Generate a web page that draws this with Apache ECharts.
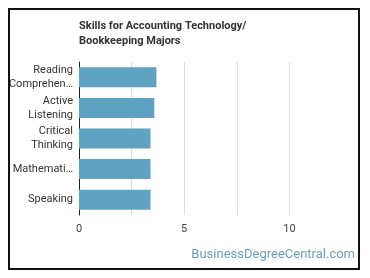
<!DOCTYPE html>
<html><head><meta charset="utf-8">
<script src="https://cdn.jsdelivr.net/npm/echarts@6/dist/echarts.min.js"></script>
<style>html,body{margin:0;padding:0;background:#fff}#c{width:370px;height:278px}</style>
</head><body><div id="c"></div>
<script>
var titleText = 'Skills for Accounting Technology/\nBookkeeping Majors';
var categories = ['Reading\nComprehen\u2026', 'Active\nListening', 'Critical\nThinking', 'Mathemati\u2026', 'Speaking'];
var values = [3.68, 3.58, 3.4, 3.4, 3.4];
var xTicks = [0, 2.5, 5, 7.5, 10, 12.5];
var watermark = 'BusinessDegreeCentral.com';

var chart = echarts.init(document.getElementById('c'), null, {renderer: 'canvas'});
chart.setOption({
  animation: false,
  title: {
    text: titleText, left: 74, top: 14,
    textStyle: {fontFamily: 'Roboto', fontSize: 11, fontWeight: 'bold', color: '#333', lineHeight: 15}
  },
  grid: {left: 79, right: 28, top: 62, bottom: 63, containLabel: false},
  xAxis: {
    type: 'value', min: xTicks[0], max: xTicks[xTicks.length - 1], interval: 2.5,
    axisLine: {show: false}, axisTick: {show: false},
    splitLine: {show: true, lineStyle: {color: ['#dddddd', '#dddddd', '#dddddd', '#dddddd', '#dddddd', 'rgba(0,0,0,0)'], width: 1}},
    axisLabel: {
      margin: 9, color: '#444', fontFamily: 'Roboto', fontSize: 11,
      formatter: function (v) { return (v % 5 === 0 && v < 12.5) ? String(v) : ''; }
    }
  },
  yAxis: {
    type: 'category', data: categories, inverse: true,
    axisLine: {show: true, lineStyle: {color: '#222', width: 1}},
    axisTick: {show: false},
    axisLabel: {margin: 6, color: '#333', fontFamily: 'Roboto', fontSize: 11, lineHeight: 14, align: 'right'}
  },
  series: [{
    type: 'bar', data: values, barWidth: 20,
    itemStyle: {color: '#5ea3c2'}
  }],
  graphic: [
    {type: 'rect', shape: {x: 9, y: 9, width: 350, height: 260}, style: {fill: 'none', stroke: '#111', lineWidth: 2}, silent: true},
    {type: 'text', right: 15, top: 248, style: {text: watermark, fill: '#6a9fc0', font: '13px Roboto', textAlign: 'right'}}
  ]
});
</script></body></html>
